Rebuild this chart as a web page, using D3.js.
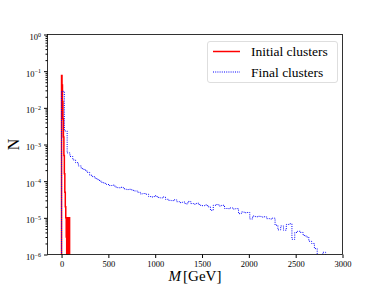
<!DOCTYPE html>
<html>
<head>
<meta charset="utf-8">
<script src="https://cdn.jsdelivr.net/npm/d3@7"></script>
<style>
  body { margin: 0; background: #fff; }
  svg { font-family: "Liberation Serif", "DejaVu Serif", serif; }
</style>
</head>
<body>
<svg id="chart" width="381" height="286"></svg>
<script>
// Initial clusters: step histogram, 5 GeV bins starting at 0
const initialBinStart = 0;
const initialBinWidth = 5;
const initialCounts = [7.6e-2, 4.2e-2, 1.5e-2, 5e-3, 1.6e-3, 5e-4, 1.6e-4, 5e-5, 2e-5, 1e-5, 3e-6, 0, 0];
// narrow isolated bins near 65-85 GeV
const initialTailStart = 64;
const initialTailWidth = 2;
const initialTailCounts = [1e-5, 0, 1e-5, 0, 1e-5, 0, 1e-5, 0, 1e-5, 0, 1e-5, 0];

// Final clusters: step histogram, 30 GeV bins starting at 0
const finalBinStart = 0;
const finalBinWidth = 30;
const finalCounts = [
  2.82e-2, 2.34e-3, 5.9e-4, 4.7e-4, 3.8e-4, 3.2e-4, 2.6e-4, 2.2e-4, 2.0e-4, 1.74e-4,
  1.45e-4, 1.32e-4, 1.17e-4, 1.05e-4, 9.3e-5, 8.7e-5, 8.1e-5, 7.6e-5, 7.8e-5, 6.9e-5,
  6.6e-5, 6.8e-5, 6.2e-5, 5.9e-5, 6.0e-5, 5.6e-5, 5.4e-5, 5.0e-5, 4.5e-5, 4.6e-5,
  4.4e-5, 3.8e-5, 3.7e-5, 4.0e-5, 3.6e-5, 3.5e-5, 3.7e-5, 3.2e-5, 3.0e-5, 2.95e-5,
  3.1e-5, 2.75e-5, 2.6e-5, 2.7e-5, 2.4e-5, 2.8e-5, 2.45e-5, 2.35e-5, 2.5e-5, 2.2e-5,
  2.15e-5, 2.25e-5, 2.0e-5, 1.6e-5, 2.2e-5, 2.3e-5, 2.1e-5, 2.2e-5, 1.8e-5, 1.78e-5,
  1.86e-5, 1.74e-5, 1.78e-5, 1.3e-5, 1.45e-5, 1.38e-5, 1.4e-5, 9.3e-6, 1.12e-5, 1.07e-5,
  1.1e-5, 1.05e-5, 1.07e-5, 9.5e-6, 9.3e-6, 9.8e-6, 6.3e-6, 4.7e-6, 6.0e-6, 4.6e-6,
  6.6e-6, 6.9e-6, 2.6e-6, 4.0e-6, 4.3e-6, 4.0e-6, 3.3e-6, 3.0e-6, 2.3e-6, 2.0e-6,
  1.45e-6, 0, 0, 1.15e-6
];

const xTicks = [0, 500, 1000, 1500, 2000, 2500, 3000];
const yExponents = [0, -1, -2, -3, -4, -5, -6];
const seriesNames = ["Initial clusters", "Final clusters"];

const svg = d3.select("#chart");
const pLeft = 47.5, pRight = 342.5, pTop = 34.5, pBottom = 254.5;
const serif = '"Liberation Serif", "DejaVu Serif", serif';

const x = d3.scaleLinear().domain([-150, 3000]).range([pLeft, pRight]);
const y = d3.scaleLog().domain([1e-6, 1]).range([pBottom, pTop]);

svg.append("defs").append("clipPath").attr("id", "plotclip")
  .append("rect").attr("x", pLeft).attr("y", pTop).attr("width", pRight - pLeft).attr("height", pBottom - pTop);

function stepPoints(start, width, counts) {
  const pts = [[start, 0]];
  counts.forEach((c, i) => pts.push([start + i * width, c]));
  pts.push([start + counts.length * width, counts[counts.length - 1]]);
  pts.push([start + counts.length * width, 0]);
  return pts;
}
const stepLine = d3.line()
  .x(d => x(d[0]))
  .y(d => y(Math.max(d[1], 1e-8)))
  .curve(d3.curveStepAfter);

const plot = svg.append("g").attr("clip-path", "url(#plotclip)");

plot.append("path")
  .attr("d", stepLine(stepPoints(initialBinStart, initialBinWidth, initialCounts)))
  .attr("fill", "none").attr("stroke", "red").attr("stroke-width", 1.5);
plot.append("path")
  .attr("d", stepLine(stepPoints(initialTailStart, initialTailWidth, initialTailCounts)))
  .attr("fill", "none").attr("stroke", "red").attr("stroke-width", 1.5);

plot.append("path")
  .attr("d", stepLine(stepPoints(finalBinStart, finalBinWidth, finalCounts)))
  .attr("fill", "none").attr("stroke", "blue").attr("stroke-width", 1)
  .attr("stroke-dasharray", "1,1.2");

// axes
const xAxis = d3.axisBottom(x).tickValues(xTicks).tickSize(3.5).tickPadding(2.5).tickFormat(d3.format("d"));
const gx = svg.append("g").attr("transform", `translate(0,${pBottom})`).call(xAxis)
  .attr("font-family", serif).attr("font-size", 8.5);
gx.select(".domain").remove();

const majorY = yExponents.map(e => Math.pow(10, e));
const minorY = [];
yExponents.slice(1).forEach(e => { for (let k = 2; k <= 9; k++) minorY.push(k * Math.pow(10, e)); });

const gy = svg.append("g").attr("transform", `translate(${pLeft},0)`)
  .call(d3.axisLeft(y).tickValues(majorY).tickSize(3.5).tickPadding(3).tickFormat(() => ""))
  .attr("font-family", serif).attr("font-size", 8.5);
gy.select(".domain").remove();
gy.selectAll(".tick text").each(function(d) {
  const t = d3.select(this);
  const e = Math.round(Math.log10(d));
  t.append("tspan").text("10");
  t.append("tspan").attr("dy", -3.5).attr("font-size", 6).text(e === 0 ? "0" : "\u2212" + Math.abs(e));
}).attr("dy", "0.6em");

svg.append("g").attr("transform", `translate(${pLeft},0)`)
  .call(d3.axisLeft(y).tickValues(minorY).tickSize(2).tickFormat(""))
  .select(".domain").remove();

svg.append("rect").attr("x", pLeft).attr("y", pTop).attr("width", pRight - pLeft).attr("height", pBottom - pTop)
  .attr("fill", "none").attr("stroke", "#000").attr("stroke-width", 0.8);

// axis labels
svg.append("text").attr("x", (pLeft + pRight) / 2).attr("y", 281).attr("text-anchor", "middle")
  .attr("font-size", 15)
  .html('<tspan font-style="italic">M</tspan><tspan dx="2">[GeV]</tspan>');
svg.append("text").attr("transform", `translate(19,${(pTop + pBottom) / 2}) rotate(-90)`)
  .attr("text-anchor", "middle").attr("font-size", 16).text("N");

// legend
const lg = svg.append("g");
lg.append("rect").attr("x", 207.5).attr("y", 41.5).attr("width", 130).attr("height", 41).attr("rx", 2.5)
  .attr("fill", "#fff").attr("fill-opacity", 0.8).attr("stroke", "#d5d5d5").attr("stroke-width", 0.8);
const legendStyles = [
  { stroke: "red", width: 1.5, dash: null },
  { stroke: "blue", width: 1, dash: "1,1.2" }
];
seriesNames.forEach((name, i) => {
  const yy = 51.5 + i * 20.5;
  lg.append("line").attr("x1", 213).attr("x2", 240).attr("y1", yy).attr("y2", yy)
    .attr("stroke", legendStyles[i].stroke).attr("stroke-width", legendStyles[i].width)
    .attr("stroke-dasharray", legendStyles[i].dash);
  lg.append("text").attr("x", 251).attr("y", yy + 4.5).attr("font-size", 13.5).text(name);
});
</script>
</body>
</html>
